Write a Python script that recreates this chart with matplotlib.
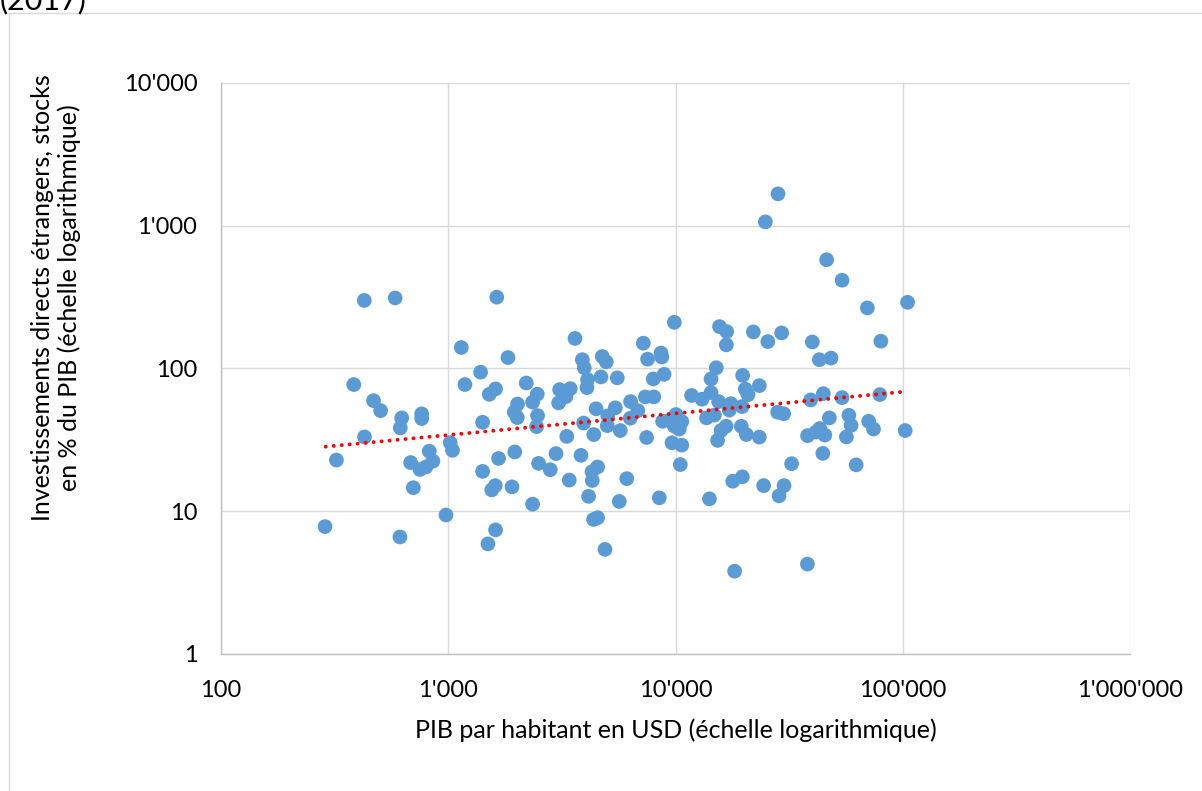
import matplotlib
matplotlib.use("Agg")
import matplotlib.pyplot as plt
from matplotlib.ticker import FuncFormatter, NullLocator
from matplotlib.lines import Line2D

plt.rcParams['font.family'] = ['Lato', 'DejaVu Sans']

# GDP per capita (USD) and FDI stock (% of GDP)
gdp_pc = [287, 322, 384, 427, 428, 469, 504, 584, 613, 615, 624, 683, 702, 751, 764, 764,
          798, 825, 856, 977, 1020, 1044, 1141, 1184, 1388, 1416, 1416, 1495, 1515, 1554,
          1610, 1615, 1615, 1635, 1665, 1831, 1908, 1952, 1962, 2018, 2012, 2204, 2350, 2350,
          2447, 2464, 2472, 2497, 2811, 2979, 3059, 3090, 3296, 3323, 3408, 3443, 3611, 3838,
          3889, 3940, 3968, 4078, 4103, 4145, 4290, 4303, 4360, 4369, 4472, 4541, 4541, 4700,
          4762, 4894, 4959, 5009, 5035, 5433, 5544, 5657, 5715, 6103, 6324, 6344, 6826, 7216,
          7364, 7461, 7537, 7985, 8025, 8486, 8635, 8705, 8907, 8773, 9391, 9652, 9879, 9879,
          10050, 10660, 10390, 10500, 10660, 11770, 13080, 13700, 14110, 14330, 14330, 14830,
          15120, 15320, 15480, 15620, 15860, 16690, 16790, 16740, 17250, 17520, 17870, 18200,
          19480, 19620, 19680, 19740, 20290, 20500, 20850, 22000, 23380, 23380, 24420, 24850,
          25490, 28260, 28150, 28550, 29310, 29910, 30030, 32430, 38110, 38070, 39320, 40000,
          41530, 42940, 43160, 44490, 44720, 45410, 46250, 47530, 48360, 54060, 54060, 56480,
          57930, 59230, 62360, 69870, 70790, 74360, 79310, 80110, 102500, 105000]

fdi_stock = [7.8, 22.8, 77, 299, 33.1, 59.4, 50.6, 311, 6.6, 38.3, 45.0, 21.9, 14.6, 19.6, 48.0, 44.5,
             20.4, 26.3, 22.4, 9.4, 30.2, 26.7, 140, 77, 94, 41.9, 19.0, 5.9, 65.8, 14.1,
             15.1, 71.8, 7.4, 315, 23.4, 119, 14.8, 49.4, 26.0, 56.2, 45.2, 79, 58.0, 11.2,
             39.1, 66.0, 46.7, 21.6, 19.5, 25.3, 57.3, 71.0, 63.4, 33.4, 16.5, 72.1, 162, 24.6,
             115, 41.4, 101, 73.3, 83.4, 12.7, 18.9, 16.4, 8.75, 34.4, 52.1, 20.4, 9.0, 87.1,
             121, 5.4, 111, 39.7, 46.5, 52.9, 85.8, 11.7, 36.7, 16.9, 44.8, 58.5, 50.6, 150,
             63.1, 32.8, 116, 84.3, 63.1, 12.4, 128, 120, 90.8, 42.6, 43.3, 30.1, 210, 39.4,
             47.5, 42.4, 37.6, 21.2, 29.0, 64.6, 60.8, 45.0, 12.2, 84.3, 67.6, 47.1,
             101, 31.3, 58.5, 196, 36.7, 39.3, 181, 146, 51.0, 56.6, 16.2, 3.8,
             39.3, 54.0, 17.4, 89.3, 71.5, 34.4, 65.5, 180, 75.7, 33.0, 15.1, 1061,
             154, 1666, 49.3, 12.8, 177, 48.1, 15.1, 21.5, 33.8, 4.26, 60.1, 153,
             35.8, 115, 37.9, 25.4, 66.5, 34.1, 576, 45.0, 118, 414, 62.4, 33.1,
             46.9, 39.9, 21.1, 265, 42.6, 37.6, 65.5, 155, 36.7, 290]

# Power trendline end points
trend_x = [289, 105000]
trend_y = [28.3, 69]

x_ticks = [100, 1000, 10000, 100000, 1000000]
y_ticks = [1, 10, 100, 1000, 10000]

title_tail = "(2017)"
x_label = "PIB par habitant en USD (échelle logarithmique)"
y_label = "Investissements directs étrangers, stocks\nen % du PIB (échelle logarithmique)"

W, H = 1202, 791
fig = plt.figure(figsize=(W / 100, H / 100), dpi=100)
fig.patch.set_facecolor("white")

ax = fig.add_axes([221 / W, 1 - 654 / H, (1130 - 221) / W, (654 - 82.7) / H])
ax.set_xscale("log")
ax.set_yscale("log")
ax.set_xlim(x_ticks[0], x_ticks[-1])
ax.set_ylim(y_ticks[0], y_ticks[-1])

ax.scatter(gdp_pc, fdi_stock, s=112, color="#5B9BD5", edgecolors="none", zorder=3, clip_on=False)
ax.plot(trend_x, trend_y, color="#FF0000", linewidth=2.8,
        linestyle=(0, (0.01, 2.05)), dash_capstyle="round", zorder=4)

def fmt(v, pos=None):
    return f"{int(round(v)):,}".replace(",", "'")

ax.xaxis.set_major_locator(plt.FixedLocator(x_ticks))
ax.yaxis.set_major_locator(plt.FixedLocator(y_ticks))
ax.xaxis.set_minor_locator(NullLocator())
ax.yaxis.set_minor_locator(NullLocator())
ax.xaxis.set_major_formatter(FuncFormatter(fmt))
ax.yaxis.set_major_formatter(FuncFormatter(fmt))
ax.tick_params(axis="both", length=0, labelsize=17, colors="black")
ax.tick_params(axis="x", pad=19)
ax.tick_params(axis="y", pad=17)

ax.grid(True, which="major", color="#D9D9D9", linewidth=1.0, zorder=0)
ax.set_axisbelow(True)
for s in ["top", "right"]:
    ax.spines[s].set_visible(False)
for s in ["left", "bottom"]:
    ax.spines[s].set_color("#BFBFBF")
    ax.spines[s].set_linewidth(1.0)

fig.text(676 / W, 1 - 730 / H, x_label, ha="center", va="center", fontsize=18)
fig.text(56 / W, 1 - 298 / H, y_label, ha="center", va="center", rotation=90,
         fontsize=18, multialignment="center", linespacing=1.2)

fig.text(0.0, 1 - 9 / H, title_tail, ha="left", va="baseline", fontsize=22)

# outer chart border (left and top edges visible)
fig.add_artist(Line2D([8.5 / W, 8.5 / W], [0, 1 - 12.5 / H], color="#D9D9D9", linewidth=1.0,
                      transform=fig.transFigure))
fig.add_artist(Line2D([8.5 / W, 1], [1 - 12.5 / H, 1 - 12.5 / H], color="#D9D9D9", linewidth=1.0,
                      transform=fig.transFigure))

fig.savefig("out.png", dpi=100)
